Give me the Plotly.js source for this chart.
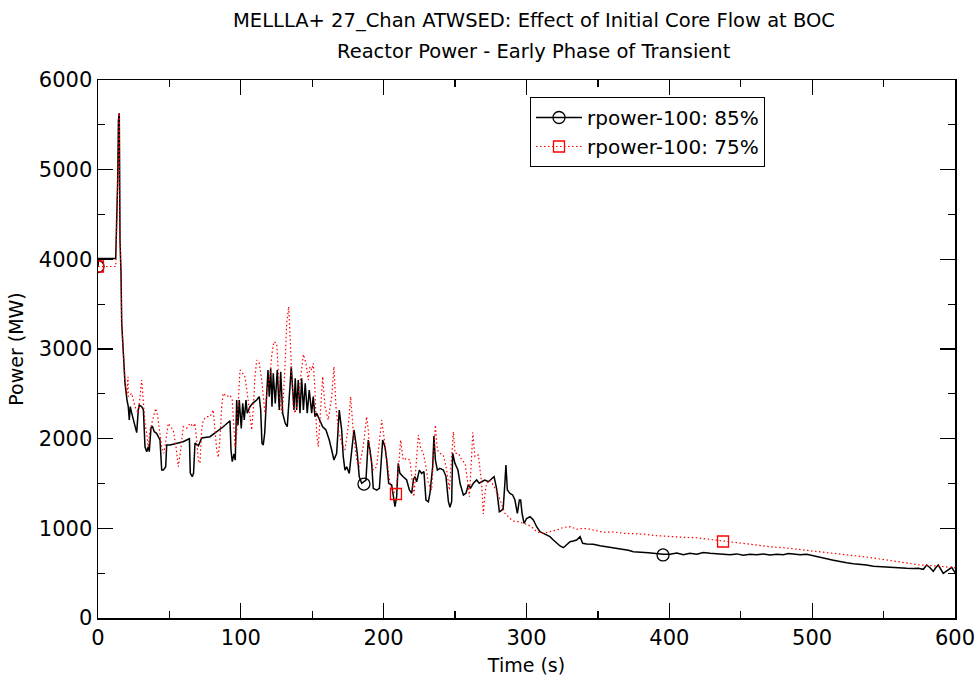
<!DOCTYPE html>
<html>
<head>
<meta charset="utf-8">
<script src="https://cdn.plot.ly/plotly-3.0.1.min.js"></script>
<style>html,body{margin:0;padding:0;background:#fff;}#chart{width:977px;height:688px;}</style>
</head>
<body>
<div id="chart"></div>
<script>
// Time (s) and reactor power (MW), initial core flow 85%
const time85 = [0,0.3,12.4,13.1,13.8,14.3,14.9,15.4,16.1,16.6,17.3,18.0,18.9,20.3,21.2,21.9,22.6,23.6,25.4,27.1,28.2,28.9,30.6,31.8,32.9,34.1,35.2,35.9,37.1,38.0,39.4,41.0,42.2,43.4,44.6,45.8,47.4,48.1,50.4,55.1,59.6,62.1,64.0,64.6,66.0,66.9,67.9,70.3,72.6,78.4,83.1,85.4,87.7,92.4,93.1,94.0,95.2,96.1,97.1,98.0,98.9,100.3,101.3,102.4,103.6,104.5,106.4,108.3,109.9,111.1,112.9,113.9,114.8,115.7,116.7,118.1,119.0,119.9,120.9,121.8,122.7,124.1,125.5,126.9,127.9,129.3,130.2,131.1,132.5,133.5,134.4,135.3,136.3,137.2,138.1,139.1,140.2,141.4,142.6,143.8,145.1,146.5,147.9,149.6,150.7,151.9,153.1,155.4,157.3,159.6,161.9,163.6,165.2,167.1,168.9,170.6,171.7,172.9,174.1,175.9,177.6,179.2,180.6,181.5,182.9,184.6,187.6,188.5,189.2,190.4,191.6,192.7,195.1,197.0,198.1,199.3,200.9,202.1,203.5,205.6,207.9,209.1,210.2,211.4,213.7,216.1,218.0,219.6,220.8,221.9,223.1,225.0,226.6,228.2,229.6,231.3,232.4,234.3,235.2,236.2,237.6,239.4,241.8,243.6,245.3,246.4,247.6,248.3,249.9,252.0,253.5,255.8,257.6,259.3,260.9,262.8,265.1,266.9,268.6,270.9,273.3,275.6,277.3,279.1,281.0,282.6,283.7,284.7,285.6,286.6,288.4,290.3,291.9,293.6,295.0,295.9,296.9,298.3,300.1,302.5,304.8,307.1,309.4,311.8,314.1,316.4,318.8,321.1,323.5,325.8,328.1,330.5,332.8,335.1,337.5,339.3,342.1,346.8,351.5,356.2,360.8,364.3,367.8,371.3,374.8,378.3,381.9,385.3,388.8,392.2,395.6,400.5,405.2,409.8,414.4,419.2,423.8,428.5,433.1,437.8,442.5,447.2,451.8,456.5,461.2,465.8,470.5,475.2,479.8,483.3,486.8,491.5,496.2,500.9,505.5,510.2,514.8,519.5,524.2,528.8,533.5,538.2,542.8,547.5,552.2,556.8,561.5,566.2,570.8,574.3,577.8,580.2,582.5,584.8,586.5,588.3,591.8,595.3,597.7,600];
const power85 = [3920,4010,4010,4360,4890,5550,5630,4215,3850,3290,3100,2800,2620,2430,2357,2208,2357,2285,2173,2067,2320,2375,2357,2320,1910,1855,1910,1855,2119,2140,2078,2060,2022,1985,1650,1650,1687,1929,1929,1948,1966,1985,2000,1617,1576,1617,1951,1920,2007,2022,2078,2115,2133,2200,1874,1743,1830,1760,2431,2150,2431,2115,2394,2208,2431,2283,2357,2394,2412,2431,2469,2320,1948,1930,2060,2469,2766,2469,2784,2357,2729,2394,2766,2320,2747,2283,2227,2171,2133,2320,2580,2803,2580,2320,2673,2320,2654,2283,2673,2320,2617,2283,2543,2283,2469,2245,2283,2208,2133,2097,1985,1874,1762,1836,2320,2097,1800,1650,1687,1613,1836,2097,1948,1836,1576,1502,1539,1799,1985,1874,1725,1446,1427,1446,1687,1985,1910,1762,1502,1483,1241,1353,1725,1613,1576,1539,1427,1390,1539,1576,1520,1650,1613,1632,1316,1297,1390,1687,2030,1762,1650,1669,1650,1580,1300,1234,1300,1837,1725,1650,1500,1372,1390,1483,1450,1502,1539,1502,1520,1539,1520,1558,1576,1440,1185,1200,1225,1464,1706,1427,1390,1372,1316,1167,1316,1316,1167,1056,1110,1130,1093,1018,962,944,925,907,870,833,803,784,814,851,858,870,907,833,825,822,806,795,777,772,766,755,740,738,733,728,722,716,710,710,725,705,722,712,730,722,712,710,705,715,700,710,705,715,703,712,705,718,714,705,710,691,675,660,645,628,615,605,600,591,578,572,570,565,560,555,552,556,543,591,560,520,560,591,498,535,565,505];

// Time (s) and reactor power (MW), initial core flow 75%
const time75 = [0,12.4,12.6,13.1,13.8,14.3,14.9,15.4,16.1,16.6,17.3,18.0,18.9,20.3,21.0,21.2,23.6,25.9,28.2,30.6,31.7,32.9,34.1,35.2,36.4,38.7,40.4,41.8,43.4,44.6,46.2,47.6,49.2,50.9,52.7,54.6,56.2,57.9,59.7,62.1,64.4,66.7,67.9,69.1,70.2,71.4,72.6,73.7,76.1,78.4,80.7,81.9,83.1,84.2,85.4,86.6,87.7,90.1,92.4,94.0,94.7,95.9,97.1,98.2,99.4,101.3,102.9,104.5,105.9,107.6,108.8,109.9,111.1,112.9,114.6,115.7,116.9,118.1,120.4,121.6,123.2,125.1,126.2,127.4,128.6,129.7,130.9,132.1,133.5,134.4,135.6,136.7,138.0,139.5,141.4,143.8,145.6,147.2,148.4,149.6,150.7,151.9,153.1,154.2,155.4,157.3,158.9,161.2,163.6,165.2,166.6,168.3,170.6,172.9,175.2,176.9,178.8,181.1,182.9,185.7,188.1,189.2,190.4,192.7,195.1,197.0,198.6,200.2,202.1,204.4,206.7,208.6,210.2,211.9,213.7,216.1,218.4,220.3,221.2,222.6,224.3,225.9,227.8,229.6,231.3,233.6,234.8,236.2,237.6,239.4,241.8,244.1,246.0,247.6,248.8,250.0,252.3,254.7,257.0,258.6,260.0,261.2,262.4,263.9,266.3,268.6,269.8,270.9,272.1,274.4,276.8,280.3,282.6,284.9,287.3,289.6,291.9,294.2,297.8,301.3,304.8,307.1,311.8,316.4,321.1,325.8,330.5,335.1,339.8,344.5,349.1,353.8,360.8,367.8,374.8,381.9,391.1,400.5,409.8,419.2,428.5,437.6,447.2,458.9,470.5,482.2,493.8,505.5,517.2,528.8,540.5,552.2,563.8,575.5,587.2,598.8,600];
const power75 = [3920,3920,4010,4360,4890,5550,5630,4215,3850,3290,3100,2800,2620,2500,2691,2469,2506,2357,2283,2654,2431,2171,2060,1910,2097,2245,2338,2245,2022,1910,1837,2022,2171,2133,2097,1910,1687,1874,2133,2115,2171,2133,2171,1985,1762,1725,2097,2208,2245,2245,2320,2100,1880,1790,2000,2357,2506,2469,2487,2431,2208,1910,2060,2431,2766,2729,2691,2506,2320,2097,2357,2691,2877,2840,2654,2431,2283,2506,2691,2930,3082,3063,2803,2431,2283,2431,2803,3286,3472,3175,2803,2357,2283,2394,2617,2940,2840,2654,2803,2766,2840,2543,2060,1910,2208,2691,2357,2208,2469,2803,2357,2097,1948,1874,2133,2469,2060,1762,1687,1910,2245,2100,1836,1650,1687,1985,2208,2020,1762,1502,1390,1420,1650,1985,1762,1780,1762,1465,1353,1687,2041,1890,1836,1687,1502,1427,1800,2152,1874,1836,1817,1650,1427,1800,2078,1836,1836,1762,1725,1540,1353,1690,2070,1800,1818,1500,1160,1390,1500,1540,1480,1370,1260,1167,1130,1093,1074,1074,1056,1037,1000,962,944,960,981,1010,1018,990,1000,990,975,955,960,945,940,935,918,905,900,895,877,853,840,820,795,780,758,740,722,700,675,647,620,591,580,565,560];

// Symbol positions along each curve
const markTime85 = [0, 186.2, 395.6];
const markPower85 = [3920, 1494, 703];
const markTime75 = [0, 208.6, 437.6];
const markPower75 = [3920, 1383, 853];

const seriesNames = ['rpower-100: 85%', 'rpower-100: 75%'];
const titleLines = ['MELLLA+ 27_Chan ATWSED: Effect of Initial Core Flow at BOC', 'Reactor Power - Early Phase of Transient'];

const FONT = 'DejaVu Sans, Verdana, sans-serif';
const BLACK = '#000000';
const RED = '#ff0000';
const DOTS = '1.5px,2.5px';

const traces = [
  {x: time85, y: power85, type: 'scatter', mode: 'lines', line: {color: BLACK, width: 1.5}, showlegend: false, hoverinfo: 'skip'},
  {x: time75, y: power75, type: 'scatter', mode: 'lines', line: {color: RED, width: 1.2, dash: DOTS}, showlegend: false, hoverinfo: 'skip'},
  {x: markTime85, y: markPower85, type: 'scatter', mode: 'markers', marker: {symbol: 'circle-open', size: 12, color: BLACK, line: {width: 1.3}}, showlegend: false},
  {x: markTime75, y: markPower75, type: 'scatter', mode: 'markers', marker: {symbol: 'square-open', size: 11, color: RED, line: {width: 1.3}}, showlegend: false},
  {x: [null], y: [null], type: 'scatter', mode: 'lines+markers', name: seriesNames[0], legendgroup: 'a',
   line: {color: BLACK, width: 1.5}, marker: {symbol: 'circle-open', size: 12, color: BLACK, line: {width: 1.3}}},
  {x: [null], y: [null], type: 'scatter', mode: 'lines+markers', name: seriesNames[1], legendgroup: 'b',
   line: {color: RED, width: 1.2, dash: DOTS}, marker: {symbol: 'square-open', size: 11, color: RED, line: {width: 1.3}}}
];

const axisCommon = {
  showgrid: false, zeroline: false, showline: true, linecolor: BLACK, linewidth: 1.5,
  mirror: 'allticks', ticks: 'inside', ticklen: 15, tickwidth: 1.3, tickcolor: BLACK,
  tickfont: {family: FONT, size: 21, color: BLACK},
  minor: {ticks: 'inside', ticklen: 7, tickwidth: 1.3, tickcolor: BLACK, showgrid: false}
};

const layout = {
  width: 977, height: 688,
  margin: {l: 98, r: 22, t: 80, b: 70},
  paper_bgcolor: '#ffffff', plot_bgcolor: '#ffffff',
  font: {family: FONT, color: BLACK},
  title: {text: titleLines[0], font: {family: FONT, size: 19.5, color: BLACK}, x: 534/977, xanchor: 'center', xref: 'container', y: 1 - 20/688, yanchor: 'middle', yref: 'container'},
  annotations: [
    {text: titleLines[1], xref: 'paper', yref: 'paper', x: (534-98)/857, y: (618-51)/538, xanchor: 'center', yanchor: 'middle', showarrow: false, font: {family: FONT, size: 19.5, color: BLACK}}
  ],
  xaxis: Object.assign({}, axisCommon, {
    range: [0, 600], tick0: 0, dtick: 100, minor: Object.assign({}, axisCommon.minor, {dtick: 50}),
    title: {text: 'Time (s)', font: {family: FONT, size: 19, color: BLACK}, standoff: 10}
  }),
  yaxis: Object.assign({}, axisCommon, {
    range: [0, 6000], tick0: 0, dtick: 1000, minor: Object.assign({}, axisCommon.minor, {dtick: 500}),
    title: {text: 'Power (MW)', font: {family: FONT, size: 19, color: BLACK}, standoff: 10}
  }),
  legend: {
    x: (530-98)/857, y: (618-97)/538, xanchor: 'left', yanchor: 'top',
    bordercolor: BLACK, borderwidth: 1, bgcolor: '#ffffff',
    font: {family: FONT, size: 20, color: BLACK}, tracegroupgap: 0, itemwidth: 46
  },
  showlegend: true
};

Plotly.newPlot('chart', traces, layout, {staticPlot: true});
</script>
</body>
</html>
